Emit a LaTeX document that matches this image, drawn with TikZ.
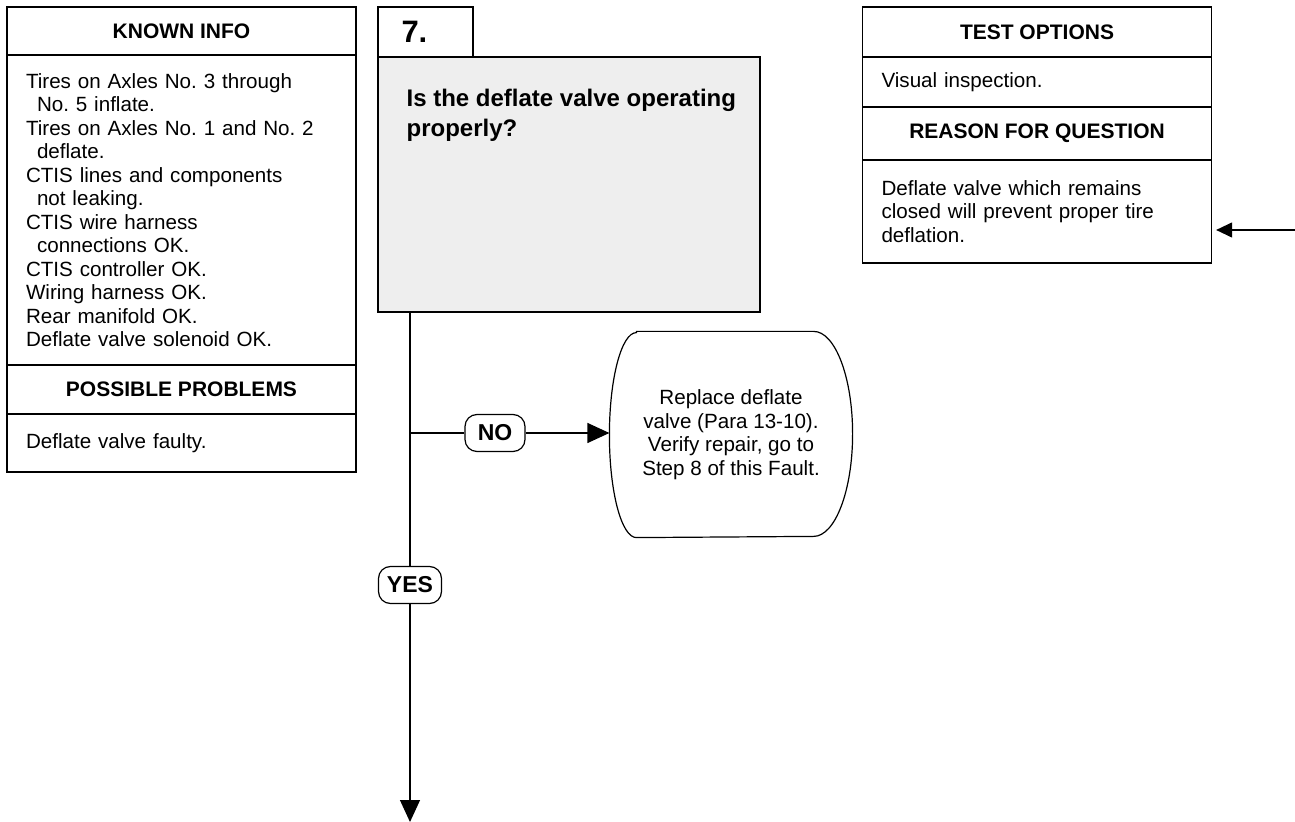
\documentclass[tikz,border=0pt]{standalone}
\usepackage{fontspec}
\setmainfont{Liberation Sans}
\usetikzlibrary{arrows.meta}
\definecolor{stepgray}{HTML}{EEEEEE}
\frenchspacing
\tikzset{
  panel/.style={draw, line width=0.6pt, minimum width=174.5pt, inner sep=0pt,
    font=\fontsize{10.3}{11.75}\selectfont},
  panelhead/.style={panel, font=\fontsize{10.5}{11.75}\selectfont\bfseries},
  paneltext/.style={panel, align=left, text width=155.5pt, inner xsep=9.5pt},
  answer/.style={draw, line width=0.6pt, rounded corners=6pt, inner sep=0pt,
    minimum height=18.5pt, font=\fontsize{11.5}{12}\selectfont\bfseries},
}
\newcommand{\hang}{\hspace*{5.5pt}}
\begin{document}
\begin{tikzpicture}[x=0.5pt, y=-0.5pt, line width=0.6pt,
    >={Triangle[length=11pt, width=10pt]}]
\useasboundingbox (0,0) rectangle (1295,822);

\node[panelhead, minimum height=24pt] (known) at (181.5,31) {KNOWN INFO};
\node[paneltext, minimum height=155pt] (knownbody) at (181.5,210)
  {Tires on Axles No. 3 through\\ \hang No. 5 inflate.\\
   Tires on Axles No. 1 and No. 2\\ \hang deflate.\\
   CTIS lines and components\\ \hang not leaking.\\
   CTIS wire harness\\ \hang connections OK.\\
   CTIS controller OK.\\ Wiring harness OK.\\
   Rear manifold OK.\\ Deflate valve solenoid OK.};
\node[panelhead, minimum height=24.5pt] (probs) at (181.5,389.5) {POSSIBLE PROBLEMS};
\node[paneltext, minimum height=29pt] (probsbody) at (181.5,443) {Deflate valve faulty.};

\node[draw, fill=stepgray, minimum width=191pt, minimum height=127.5pt] (step) at (569,184.5) {};
\node[draw, fill=white, minimum width=47.5pt, minimum height=25pt, text width=24pt,
  align=left, font=\fontsize{15.5}{16}\selectfont\bfseries] (tab) at (425.5,32) {7.};
\node[anchor=north west, align=left, inner sep=0pt, font=\fontsize{12}{15}\selectfont\bfseries]
  (question) at (406,89) {Is the deflate valve operating\\ properly?};

\node[panelhead, minimum height=25pt] (tests) at (1037,32) {TEST OPTIONS};
\node[paneltext, minimum height=25pt] (testsbody) at (1037,82) {Visual inspection.};
\node[panelhead, minimum height=26.5pt] (reason) at (1037,133.5) {REASON FOR QUESTION};
\node[paneltext, minimum height=51.5pt] (reasonbody) at (1037,211.5)
  {Deflate valve which remains\\ closed will prevent proper tire\\ deflation.};

\node[minimum width=121pt, minimum height=102.5pt, align=center,
  font=\fontsize{10.3}{11.75}\selectfont] (fix) at (731,434.5)
  {Replace deflate\\ valve (Para 13-10).\\ Verify repair, go to\\ Step 8 of this Fault.};
\draw ([xshift=13.5pt]fix.north west) -- ([xshift=-19.5pt]fix.north east)
  arc[start angle=90, end angle=-90, x radius=19.5pt, y radius=51.25pt]
  -- ([xshift=13.5pt]fix.south west)
  arc[start angle=270, end angle=90, x radius=13.5pt, y radius=51.25pt] -- cycle;

\coordinate (stem) at (410,312);
\coordinate (fork) at (410,433);
\coordinate (down) at (410,822);
\node[answer, minimum width=30pt] (no) at (495,433) {NO};
\node[answer, minimum width=31.5pt] (yes) at (410,585) {YES};
\draw (stem) -- (yes.north);
\draw[->] (yes.south) -- (down);
\draw (fork) -- (no.west);
\draw[->] (no.east) -- (no.east -| fix.west);

\coordinate (back) at (1295,230);
\draw[-{Triangle[length=8pt, width=7.5pt]}, shorten >=2pt] (back) -- (back -| reasonbody.east);
\end{tikzpicture}
\end{document}
